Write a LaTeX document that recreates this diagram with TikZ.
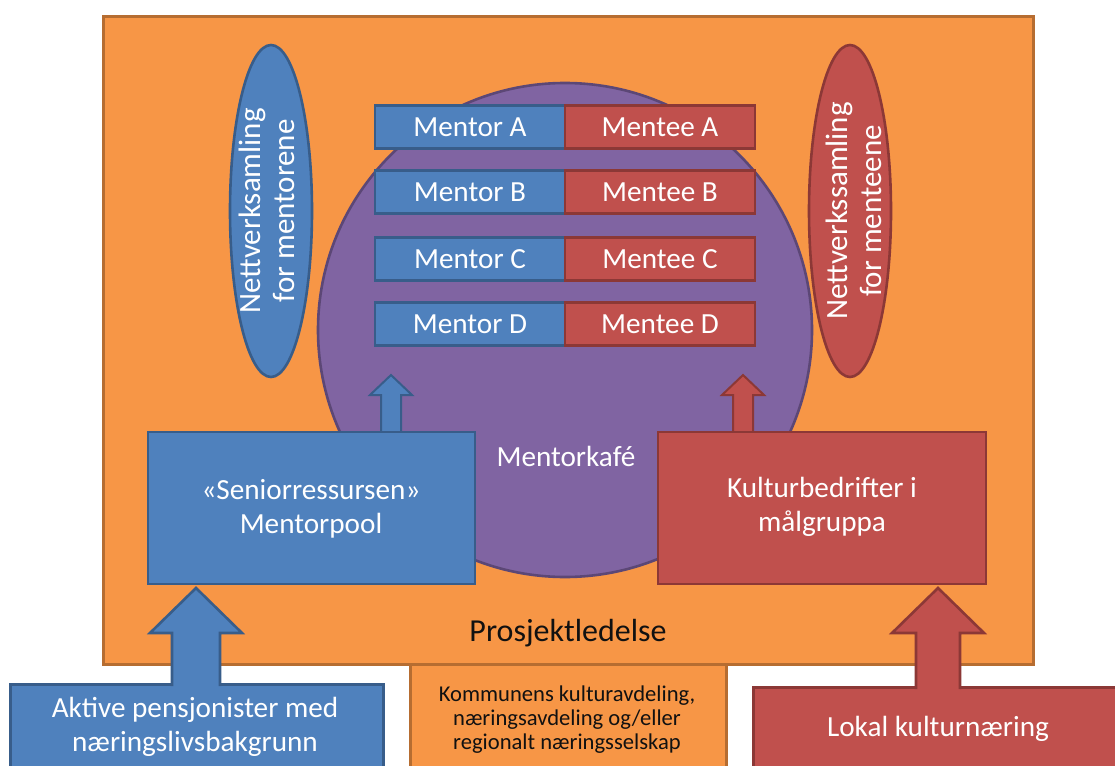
\documentclass[tikz,border=0pt]{standalone}
\usepackage{fontspec}
\setmainfont{Carlito}
\usetikzlibrary{shapes.geometric}
\definecolor{orfill}{HTML}{F79646}
\definecolor{ordraw}{HTML}{B66D31}
\definecolor{bfill}{HTML}{4F81BD}
\definecolor{bdraw}{HTML}{385D8A}
\definecolor{rfill}{HTML}{C0504D}
\definecolor{rdraw}{HTML}{8C3836}
\definecolor{pfill}{HTML}{8064A2}
\definecolor{pdraw}{HTML}{5C4776}
\definecolor{dtext}{HTML}{111111}
\newcommand\blockup[8]{%
  \fill[#7] (#1,#2) -- (#1+#4,#3) -- (#1+#5,#3) -- (#1+#5,#6) -- (#1-#5,#6) -- (#1-#5,#3) -- (#1-#4,#3) -- cycle;
  \draw[#8, line join=miter] (#1-#5,#6) -- (#1-#5,#3) -- (#1-#4,#3) -- (#1,#2) -- (#1+#4,#3) -- (#1+#5,#3) -- (#1+#5,#6);}
\begin{document}
\begin{tikzpicture}[x=1pt,y=-1pt,line width=2.6pt,
  bluebox/.style={draw=bdraw,fill=bfill,inner sep=0pt},
  redbox/.style={draw=rdraw,fill=rfill,inner sep=0pt},
  orbox/.style={draw=ordraw,fill=orfill,inner sep=0pt},
  wtxt/.style={text=white,font=\fontsize{29.2}{34.5}\selectfont,align=center,inner sep=0pt},
  etxt/.style={text=white,font=\fontsize{31}{34.5}\selectfont,align=center,inner sep=0pt},
  pairbox/.style={minimum width=190pt,minimum height=43pt,inner sep=0pt,text=white,font=\fontsize{29.2}{34}\selectfont}]
\useasboundingbox (0,0) rectangle (1115,765);
\clip (0,0) rectangle (1115,765);
% frame
\node[orbox,minimum width=930pt,minimum height=648pt,anchor=north west] (frame) at (102,15) {};
\node[orbox,minimum width=316pt,minimum height=130pt,anchor=north west] (komm) at (409,663) {};
\node[text=dtext,font=\fontsize{22.6}{24}\selectfont,align=center,inner sep=0pt] (kommt) at (567,720)
  {Kommunens kulturavdeling,\\næringsavdeling og/eller\\regionalt næringsselskap};
\node[text=dtext,font=\fontsize{32}{36}\selectfont,inner sep=0pt] (pl) at (568,633) {Prosjektledelse};
% cafe circle
\node[circle,draw=pdraw,fill=pfill,minimum size=494pt,inner sep=0pt] (cafe) at (565,330) {};
% ellipses
\node[ellipse,draw=bdraw,fill=bfill,minimum width=82pt,minimum height=332pt,inner sep=0pt] (nl) at (271,211) {};
\node[etxt,rotate=90] (nlt) at (267,211) {Nettverksamling\\for mentorene};
\node[ellipse,draw=rdraw,fill=rfill,minimum width=82pt,minimum height=332pt,inner sep=0pt] (nr) at (850,211) {};
\node[etxt,rotate=90] (nrt) at (854,211) {Nettverkssamling\\for menteene};
% pairs
\node[pairbox,draw=bdraw,fill=bfill] (ma) at (470,127) {Mentor A};
\node[pairbox,draw=rdraw,fill=rfill] (ea) at (660,127) {Mentee A};
\node[pairbox,draw=bdraw,fill=bfill] (mb) at (470,192) {Mentor B};
\node[pairbox,draw=rdraw,fill=rfill] (eb) at (660,192) {Mentee B};
\node[pairbox,draw=bdraw,fill=bfill] (mc) at (470,259) {Mentor C};
\node[pairbox,draw=rdraw,fill=rfill] (ec) at (660,259) {Mentee C};
\node[pairbox,draw=bdraw,fill=bfill] (md) at (470,324) {Mentor D};
\node[pairbox,draw=rdraw,fill=rfill] (ed) at (660,324) {Mentee D};
% small arrows
\begin{scope}[line width=2pt]
\blockup{391}{375}{395}{21}{10}{433}{bfill}{bdraw}
\blockup{743}{375}{395}{21}{10}{433}{rfill}{rdraw}
\end{scope}
\node[wtxt] (mk) at (566,456) {Mentorkafé};
% pool boxes
\node[bluebox,minimum width=327pt,minimum height=152pt] (sen) at (311.5,508) {};
\node[wtxt] (sent) at (311,509) {«Seniorressursen»\\Mentorpool};
\node[redbox,minimum width=328pt,minimum height=152pt] (kul) at (822,508) {};
\node[wtxt] (kult) at (822,507) {Kulturbedrifter i\\målgruppa};
% bottom boxes
\node[bluebox,minimum width=373pt,minimum height=120pt,anchor=north west] (akt) at (9,683) {};
\node[wtxt] (aktt) at (195,727) {Aktive pensjonister med\\næringslivsbakgrunn};
\node[redbox,minimum width=400pt,minimum height=120pt,anchor=north west] (lok) at (752,686) {};
\node[wtxt] (lokt) at (938,729) {Lokal kulturnæring};
% big arrows
\blockup{196}{588}{633}{46}{24}{686}{bfill}{bdraw}
\blockup{938}{588}{633}{46}{22}{689}{rfill}{rdraw}
\end{tikzpicture}
\end{document}
